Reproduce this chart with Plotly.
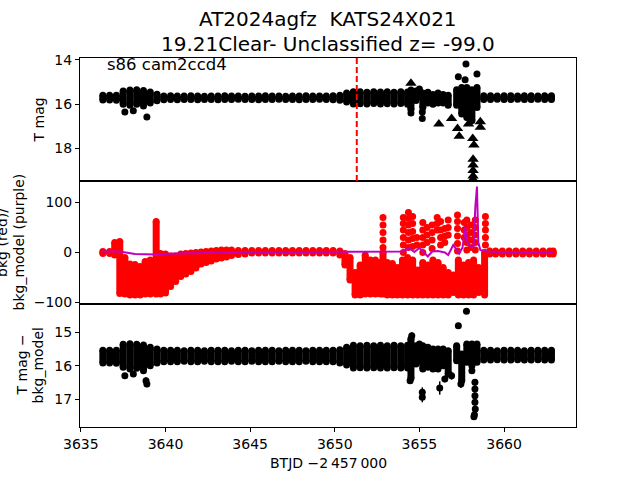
import plotly.graph_objects as go
from plotly.subplots import make_subplots

# ---------------- data ----------------
title_line1 = "AT2024agfz  KATS24X021"
title_line2 = "19.21Clear- Unclassified z= -99.0"
field_label = "s86 cam2ccd4"
x_ticks = [3635, 3640, 3645, 3650, 3655, 3660]
y1_ticks = [14, 16, 18]
y2_ticks = [-100, 0, 100]
y3_ticks = [15, 16, 17]
t_disc = 3651.3  # red dashed discovery line

# cadence columns shared by the T mag and T mag - bkg_model panels
t_col = [3636.3, 3636.7, 3637.1, 3637.5, 3637.9, 3638.3, 3638.7, 3639.1, 3639.5, 3639.9,
         3640.3, 3640.7, 3641.1, 3641.5, 3641.9, 3642.3, 3642.7, 3643.1, 3643.5, 3643.9,
         3644.3, 3644.7, 3645.1, 3645.5, 3645.9, 3646.3, 3646.7, 3647.1, 3647.5, 3647.9,
         3648.3, 3648.7, 3649.1, 3649.5, 3649.9, 3650.3, 3650.7, 3651.1, 3651.5, 3651.9,
         3652.3, 3652.7, 3653.1, 3653.5, 3653.9, 3654.3,
         3654.5, 3654.8, 3655.0, 3655.2, 3655.5, 3655.8, 3656.1, 3656.4, 3656.7,
         3657.2, 3657.5, 3657.8, 3658.1, 3658.4,
         3658.8, 3659.2, 3659.6, 3660.0, 3660.4, 3660.8, 3661.2, 3661.6, 3662.0, 3662.4, 3662.8]

tmag_hi = [15.60, 15.60, 15.60, 15.40, 15.36, 15.35, 15.38, 15.45, 15.55, 15.63,
           15.62, 15.63, 15.63, 15.62, 15.63, 15.64, 15.63, 15.63, 15.62, 15.63,
           15.63, 15.64, 15.63, 15.63, 15.62, 15.63, 15.63, 15.64, 15.63, 15.63,
           15.62, 15.63, 15.63, 15.63, 15.62, 15.60, 15.50, 15.44, 15.44, 15.46,
           15.44, 15.45, 15.44, 15.46, 15.44, 15.45,
           15.36, 15.41, 15.31, 15.50, 15.46, 15.56, 15.50, 15.56, 15.60,
           15.35, 15.25, 15.25, 15.35, 15.25,
           15.62, 15.62, 15.63, 15.62, 15.62, 15.63, 15.62, 15.62, 15.63, 15.62, 15.62]
tmag_lo = [15.81, 15.81, 15.82, 16.00, 16.05, 16.00, 16.08, 15.95, 15.85, 15.80,
           15.79, 15.80, 15.79, 15.79, 15.80, 15.79, 15.79, 15.80, 15.79, 15.79,
           15.78, 15.79, 15.79, 15.80, 15.79, 15.79, 15.78, 15.79, 15.79, 15.80,
           15.79, 15.79, 15.78, 15.79, 15.80, 15.82, 15.90, 15.99, 15.98, 15.99,
           15.97, 15.99, 15.98, 15.99, 15.97, 16.00,
           16.24, 15.84, 15.64, 16.15, 15.95, 16.00, 15.95, 15.95, 16.05,
           16.05, 16.45, 16.60, 16.75, 16.15,
           15.79, 15.79, 15.78, 15.79, 15.79, 15.78, 15.79, 15.79, 15.78, 15.79, 15.79]

diff_hi = [15.54, 15.54, 15.54, 15.36, 15.34, 15.36, 15.38, 15.45, 15.50, 15.54,
           15.54, 15.54, 15.55, 15.54, 15.54, 15.55, 15.54, 15.54, 15.54, 15.55,
           15.54, 15.54, 15.55, 15.54, 15.54, 15.54, 15.55, 15.54, 15.54, 15.54,
           15.55, 15.54, 15.54, 15.54, 15.54, 15.52, 15.45, 15.39, 15.40, 15.39,
           15.40, 15.39, 15.40, 15.39, 15.40, 15.39,
           15.19, 15.40, 15.35, 15.40, 15.45, 15.50, 15.50, 15.50, 15.55,
           15.40, 15.65, 15.35, 15.35, 15.35,
           15.54, 15.54, 15.55, 15.54, 15.54, 15.54, 15.55, 15.54, 15.54, 15.54, 15.54]
diff_lo = [15.92, 15.92, 15.93, 16.05, 16.10, 16.08, 16.15, 16.00, 15.92, 15.88,
           15.88, 15.88, 15.87, 15.88, 15.88, 15.87, 15.88, 15.88, 15.88, 15.87,
           15.88, 15.88, 15.87, 15.88, 15.88, 15.88, 15.87, 15.88, 15.88, 15.88,
           15.87, 15.88, 15.88, 15.88, 15.88, 15.92, 15.98, 16.07, 16.06, 16.07,
           16.06, 16.07, 16.07, 16.06, 16.07, 16.07,
           16.38, 15.95, 15.85, 16.10, 16.05, 16.10, 16.10, 16.00, 16.25,
           15.85, 16.45, 15.90, 16.00, 15.90,
           15.83, 15.83, 15.82, 15.83, 15.83, 15.82, 15.83, 15.83, 15.82, 15.83, 15.83]

# isolated T mag detections (circles) and upper limits (triangles)
tmag_pt_t = [3637.6, 3638.1, 3638.9, 3657.3, 3657.75, 3657.7, 3658.4, 3655.17, 3655.17, 3654.5]
tmag_pt_m = [16.35, 16.30, 16.58, 14.76, 14.18, 14.90, 14.64, 16.65, 16.35, 16.40]
tmag_lim_t = [3654.5, 3656.15, 3656.9, 3657.25, 3657.35, 3657.9, 3658.15, 3658.22,
              3658.17, 3658.17, 3658.17, 3658.17, 3658.17, 3658.6, 3658.6]
tmag_lim_m = [15.05, 16.90, 16.65, 17.10, 17.45, 16.90, 17.55, 17.85,
              18.50, 18.75, 19.00, 19.25, 19.40, 16.80, 17.05]

# isolated difference points with error bars
diff_pt_t = [3637.6, 3638.1, 3638.85, 3638.9, 3655.17, 3655.17, 3656.2, 3656.5, 3656.9,
             3657.45, 3657.3, 3657.78, 3658.1, 3658.28, 3658.28, 3658.28, 3658.28, 3658.3,
             3658.25, 3658.22, 3654.45, 3654.55]
diff_pt_m = [16.30, 16.25, 16.45, 16.55, 16.80, 16.95, 16.67, 16.40, 16.30,
             16.55, 14.80, 14.37, 16.15, 16.50, 16.70, 16.90, 17.10, 17.30,
             17.47, 17.53, 16.45, 15.10]
diff_pt_e = [0.08, 0.08, 0.10, 0.10, 0.15, 0.15, 0.20, 0.10, 0.12,
             0.12, 0.05, 0.05, 0.08, 0.10, 0.10, 0.10, 0.10, 0.10,
             0.10, 0.08, 0.10, 0.10]

# background flux (red) ranges per cadence column
t_bkg = [3636.3, 3636.7, 3637.0, 3637.3, 3637.6, 3637.9, 3638.2, 3638.5, 3638.8, 3639.1,
         3639.45, 3639.7, 3640.0, 3640.3, 3640.6, 3640.9, 3641.2, 3641.5, 3641.8, 3642.1,
         3642.4, 3642.7, 3643.0, 3643.3, 3643.6, 3643.9, 3644.3, 3644.7, 3645.1, 3645.5,
         3645.9, 3646.3, 3646.7, 3647.1, 3647.5, 3647.9, 3648.3, 3648.7, 3649.1, 3649.5,
         3649.9, 3650.3, 3650.6, 3650.9, 3651.2, 3651.5, 3651.8, 3652.1, 3652.4, 3652.7,
         3652.85, 3653.1, 3653.4, 3653.7, 3654.0, 3654.3, 3654.6, 3654.9, 3655.2, 3655.5,
         3655.8, 3656.1, 3656.4, 3656.7, 3657.0, 3657.3, 3657.6, 3657.9, 3658.2, 3658.5,
         3658.85, 3659.15, 3659.5, 3659.9, 3660.3, 3660.7, 3661.1, 3661.5, 3661.9, 3662.3,
         3662.7, 3662.9]
bkg_lo = [-2, -2, -5, -82, -83, -85, -85, -85, -83, -83,
          -83, -83, -81, -68, -58, -48, -43, -38, -31, -23,
          -20, -17, -13, -11, -9, -6, -4, -3, -1, -1,
          -1, -1, -1, -1, -1, -1, -1, -1, -1, -1,
          -1, -5, -25, -55, -85, -85, -83, -83, -83, -83,
          -83, -85, -85, -85, -85, -85, -85, -85, -85, -85,
          -85, -85, -85, -85, -80, -85, -85, -85, -85, -80,
          -85, -3, -3, -3, -3, -3, -3, -3, -3, -3,
          -3, -3]
bkg_hi = [2, 2, 20, 22, -10, -23, -24, -28, -18, -15,
          62, -2, -3, -7, -7, -3, -2, -1, 0, 1,
          2, 3, 4, 5, 5, 5, 4, 4, 4, 4,
          4, 4, 4, 4, 4, 4, 4, 4, 4, 4,
          4, 3, -2, -10, -40, -25, -5, -15, -15, -20,
          0, -20, -22, -30, -15, -10, -15, -35, -20, -25,
          -15, -20, -30, -40, -45, -15, -25, -20, -15, -30,
          0, 3, 3, 3, 3, 3, 3, 3, 3, 3,
          3, 3]

# scattered high background points
bkg_dot_t = [3652.85] * 5 + [3654.05] * 6 + [3654.35] * 6 + [3654.6] * 5 + [3654.85] * 2 + \
            [3655.2] * 5 + [3655.45] * 3 + [3655.75] * 4 + [3656.05] * 3 + [3656.25] * 4 + \
            [3656.5] * 3 + [3656.7] * 3 + [3657.25] * 6 + [3657.65] * 3 + [3657.8] * 5 + \
            [3658.05] * 4 + [3658.3] * 5 + [3658.9] * 5
bkg_dot_v = [70, 55, 40, 25, 10,
             70, 58, 45, 30, 15, 0,
             80, 68, 55, 40, 25, 10,
             72, 58, 42, 28, 12,
             30, 15,
             60, 45, 30, 15, 0,
             50, 35, 20,
             55, 40, 25, 8,
             70, 58, 45,
             62, 45, 30, 15,
             48, 33, 20,
             65, 50, 35,
             75, 62, 48, 33, 18, 3,
             60, 45, 30,
             65, 50, 35, 20, 5,
             55, 40, 25, 10,
             65, 50, 35, 20, 5,
             72, 58, 45, 30, 15]

# background model (purple line)
model_t = [3636.2, 3637.0, 3637.3, 3638.2, 3639.4, 3640.5, 3642.0, 3644.0, 3646.0, 3648.0,
           3650.0, 3651.5, 3652.5, 3653.5, 3654.0, 3654.4, 3654.7, 3655.0, 3655.25, 3655.5,
           3655.75, 3656.1, 3656.5, 3656.7, 3657.0, 3657.2, 3657.35, 3657.55, 3657.7, 3657.8,
           3658.0, 3658.2, 3658.3, 3658.4, 3658.48, 3658.6, 3659.0, 3660.0, 3661.0, 3662.0,
           3662.9]
model_v = [2, 2, 2, -3, -4, -2, -1, 0, 1, 1,
           1, 1, 1, 2, 2, 9, 1, 9, 0, -8,
           2, 3, 0, -5, 15, 5, -2, 10, 52, 23,
           12, 10, 90, 132, 20, 5, 2, 1, 1, 1,
           1]

# ---------------- figure ----------------
def columns(t, lo, hi):
    xs, ys = [], []
    for a, l, h in zip(t, lo, hi):
        xs += [a, a, None]
        ys += [l, h, None]
    return xs, ys

fig = make_subplots(rows=3, cols=1, shared_xaxes=True, vertical_spacing=0)

cx, cy = columns(t_col, tmag_hi, tmag_lo)
fig.add_trace(go.Scatter(x=cx, y=cy, mode="lines+markers",
                         line=dict(color="black", width=7),
                         marker=dict(color="black", size=7), hoverinfo="skip"), row=1, col=1)
fig.add_trace(go.Scatter(x=tmag_pt_t, y=tmag_pt_m, mode="markers",
                         marker=dict(color="black", size=7)), row=1, col=1)
fig.add_trace(go.Scatter(x=tmag_lim_t, y=tmag_lim_m, mode="markers",
                         marker=dict(color="black", size=10, symbol="triangle-up")), row=1, col=1)

bx, by = columns(t_bkg, bkg_lo, bkg_hi)
fig.add_trace(go.Scatter(x=bx, y=by, mode="lines+markers",
                         line=dict(color="#ff0000", width=7),
                         marker=dict(color="#ff0000", size=7), hoverinfo="skip"), row=2, col=1)
fig.add_trace(go.Scatter(x=bkg_dot_t, y=bkg_dot_v, mode="markers",
                         marker=dict(color="#ff0000", size=7)), row=2, col=1)
fig.add_trace(go.Scatter(x=model_t, y=model_v, mode="lines",
                         line=dict(color="#bf00bf", width=2)), row=2, col=1)

dx, dy = columns(t_col, diff_hi, diff_lo)
fig.add_trace(go.Scatter(x=dx, y=dy, mode="lines+markers",
                         line=dict(color="black", width=7),
                         marker=dict(color="black", size=7), hoverinfo="skip"), row=3, col=1)
fig.add_trace(go.Scatter(x=diff_pt_t, y=diff_pt_m, mode="markers",
                         marker=dict(color="black", size=7),
                         error_y=dict(type="data", array=diff_pt_e, color="black",
                                      thickness=1.5, width=0)), row=3, col=1)

xr = [3634.95, 3664.25]
axis_common = dict(showline=True, mirror=True, linecolor="black", linewidth=1,
                   showgrid=False, zeroline=False)
for i in (1, 2, 3):
    fig.update_xaxes(range=xr, **axis_common, row=i, col=1)
    fig.update_yaxes(**axis_common, ticks="outside", ticklen=4, tickwidth=1,
                     tickcolor="black", row=i, col=1)
fig.update_xaxes(showticklabels=False, ticks="", row=1, col=1)
fig.update_xaxes(showticklabels=False, ticks="", row=2, col=1)
fig.update_xaxes(ticks="outside", ticklen=4, tickwidth=1, tickcolor="black",
                 tickvals=x_ticks, row=3, col=1)
fig.update_yaxes(range=[19.48, 13.91], tickvals=y1_ticks, row=1, col=1)
fig.update_yaxes(range=[-103, 143], tickvals=y2_ticks, row=2, col=1)
fig.update_yaxes(range=[17.84, 14.15], tickvals=y3_ticks, row=3, col=1)

fig.update_layout(
    width=640, height=480,
    margin=dict(l=80, r=64, t=58, b=53),
    paper_bgcolor="white", plot_bgcolor="white",
    font=dict(family="DejaVu Sans", size=14, color="black"),
    showlegend=False,
    yaxis=dict(domain=[2 / 3, 1]), yaxis2=dict(domain=[1 / 3, 2 / 3]),
    yaxis3=dict(domain=[0, 1 / 3]),
    shapes=[dict(type="line", xref="x", yref="y domain", x0=t_disc, x1=t_disc,
                 y0=0, y1=1, layer="above",
                 line=dict(color="#ff0000", width=2, dash="6px,3px"))],
)

ann = [
    dict(text=title_line1, x=0.5, y=1.1057, font=dict(size=20)),
    dict(text=title_line2, x=0.5, y=1.0379, font=dict(size=20)),
    dict(text=field_label, x=0.0504, y=0.9837, xanchor="left", font=dict(size=16.5)),
    dict(text="T mag", x=-0.0827, y=0.8333, textangle=-90),
    dict(text="bkg (red)/", x=-0.1585, y=0.5, textangle=-90),
    dict(text="bkg_model (purple)", x=-0.1250, y=0.5, textangle=-90),
    dict(text="T mag \u2212", x=-0.1169, y=0.1667, textangle=-90),
    dict(text="bkg_model", x=-0.0827, y=0.1667, textangle=-90),
    dict(text="BTJD \u22122\u2009457\u2009000", x=0.5, y=-0.0976),
]
for a in ann:
    a.setdefault("xanchor", "center")
    fig.add_annotation(xref="paper", yref="paper", showarrow=False, yanchor="middle", **a)

fig.write_html("out.html", config={"displayModeBar": False},
               post_script="document.body.style.margin='0';document.body.style.overflow='hidden';")
